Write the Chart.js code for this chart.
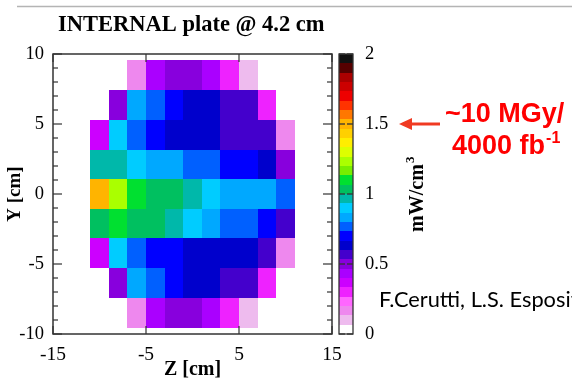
<!DOCTYPE html>
<html>
<head>
<meta charset="utf-8">
<script src="https://cdn.jsdelivr.net/npm/chart.js@4.4.1/dist/chart.umd.min.js"></script>
<style>
body { margin: 0; background: #fff; }
#wrap { width: 572px; height: 382px; }
</style>
</head>
<body>
<div id="wrap"><canvas id="myChart" width="572" height="382"></canvas></div>
<script>
// bin edges in cm
const zEdges = [-11, -9, -7, -5, -3, -1, 1, 3, 5, 7, 9, 11];
const yEdges = [9.6, 7.45, 5.3, 3.15, 1.05, -1.05, -3.15, -5.3, -7.45, -9.6];

// power density mW/cm3, one array per Y row (top to bottom), Z from -10 to 10
const rowY1 = [null, null, 0.17, 0.43, 0.50, 0.50, 0.43, 0.30, 0.10, null, null];
const rowY2 = [null, 0.50, 0.83, 0.77, 0.70, 0.63, 0.63, 0.57, 0.57, 0.30, null];
const rowY3 = [0.37, 0.90, 0.77, 0.70, 0.63, 0.63, 0.63, 0.57, 0.57, 0.57, 0.17];
const rowY4 = [0.97, 0.97, 0.90, 0.83, 0.83, 0.77, 0.77, 0.70, 0.70, 0.63, 0.50];
const rowY5 = [1.50, 1.23, 1.10, 1.03, 1.03, 0.97, 0.90, 0.83, 0.83, 0.83, 0.77];
const rowY6 = [1.03, 1.10, 1.03, 1.03, 0.97, 0.90, 0.83, 0.77, 0.77, 0.70, 0.57];
const rowY7 = [0.37, 0.90, 0.77, 0.70, 0.70, 0.63, 0.63, 0.63, 0.63, 0.57, 0.17];
const rowY8 = [null, 0.50, 0.83, 0.77, 0.70, 0.63, 0.63, 0.57, 0.57, 0.30, null];
const rowY9 = [null, null, 0.17, 0.43, 0.50, 0.50, 0.43, 0.30, 0.10, null, null];
const dose = [rowY1, rowY2, rowY3, rowY4, rowY5, rowY6, rowY7, rowY8, rowY9];

const xTicks = [-15, -5, 5, 15];
const yTicks = [-10, -5, 0, 5, 10];
const cTicks = [0, 0.5, 1, 1.5, 2];
const cMax = 2;

// ROOT-like palette, 30 bands from 0 to 2
const palette = ['#ffffff', '#eebbee', '#ee88ee', '#ff66ff', '#ee22ff', '#cc00ff', '#aa00ff', '#8800dd',
    '#4400cc', '#0000cc', '#0000ff', '#0060ff', '#00a8ff', '#00ccff', '#00b8aa', '#00c060',
    '#00e030', '#77ee00', '#aaff00', '#ddff00', '#ffee00', '#ffd000', '#ffb400', '#ff7700',
    '#ff3300', '#ee0000', '#cc0000', '#aa0000', '#550000', '#111111'];

function colorFor(v) {
    let k = Math.floor(v / cMax * palette.length);
    if (k > palette.length - 1) k = palette.length - 1;
    return palette[k];
}

const points = [];
dose.forEach((row, r) => row.forEach((v, c) => {
    if (v !== null) points.push({ x: (zEdges[c] + zEdges[c + 1]) / 2, y: (yEdges[r] + yEdges[r + 1]) / 2, v: v });
}));

function line(ctx, x0, y0, x1, y1) {
    ctx.beginPath();
    ctx.moveTo(x0, y0);
    ctx.lineTo(x1, y1);
    ctx.stroke();
}

const heatmap = {
    id: 'heatmap',
    beforeDatasetsDraw(chart) {
        const { ctx, scales: { x, y } } = chart;
        ctx.save();
        dose.forEach((row, r) => {
            row.forEach((v, c) => {
                if (v === null) return;
                const x0 = Math.round(x.getPixelForValue(zEdges[c]));
                const x1 = Math.round(x.getPixelForValue(zEdges[c + 1]));
                const y0 = Math.round(y.getPixelForValue(yEdges[r]));
                const y1 = Math.round(y.getPixelForValue(yEdges[r + 1]));
                ctx.fillStyle = colorFor(v);
                ctx.fillRect(x0, y0, x1 - x0, y1 - y0);
            });
        });
        ctx.restore();
    }
};

const decor = {
    id: 'decor',
    afterDraw(chart) {
        const { ctx, chartArea: { left, right, top, bottom }, scales: { x, y, c } } = chart;
        ctx.save();
        // slide separator
        ctx.strokeStyle = '#b4b4b4';
        ctx.lineWidth = 1.5;
        line(ctx, 17, 6.5, 572, 6.5);

        // frame and inward ticks
        ctx.strokeStyle = '#333';
        ctx.lineWidth = 1.5;
        ctx.strokeRect(left, top, right - left, bottom - top);
        ctx.lineWidth = 1.2;
        for (let v = -10; v <= 10; v++) {
            const py = y.getPixelForValue(v);
            const len = v % 5 === 0 ? 9 : 5;
            line(ctx, left, py, left + len, py);
            line(ctx, right, py, right - len, py);
        }
        xTicks.forEach(v => {
            const px = x.getPixelForValue(v);
            line(ctx, px, bottom, px, bottom - 8);
            line(ctx, px, top, px, top + 8);
        });

        // colour bar
        const bx0 = right + 7, bx1 = right + 21;
        palette.forEach((col, k) => {
            const y0 = Math.round(c.getPixelForValue((k + 1) * cMax / palette.length));
            const y1 = Math.round(c.getPixelForValue(k * cMax / palette.length));
            ctx.fillStyle = col;
            ctx.fillRect(bx0, y0, bx1 - bx0, y1 - y0);
        });
        ctx.strokeStyle = '#333';
        ctx.lineWidth = 1.3;
        ctx.strokeRect(bx0, c.top, bx1 - bx0, c.bottom - c.top);
        cTicks.forEach(v => {
            const py = c.getPixelForValue(v);
            line(ctx, bx0, py, bx0 + 6, py);
            line(ctx, bx1, py, bx1 - 6, py);
        });

        // colour bar title
        ctx.fillStyle = '#000';
        ctx.translate(right + 91, (top + bottom) / 2);
        ctx.rotate(-Math.PI / 2);
        ctx.font = "bold 20px 'Liberation Serif'";
        ctx.textAlign = 'left';
        ctx.textBaseline = 'alphabetic';
        const tw = ctx.measureText('mW/cm').width;
        ctx.fillText('mW/cm', -tw / 2 - 4, 0);
        ctx.font = "bold 13px 'Liberation Serif'";
        ctx.fillText('3', tw / 2 - 3, -9);
        ctx.restore();

        ctx.save();
        // title
        ctx.fillStyle = '#000';
        ctx.font = "bold 22.5px 'Liberation Serif'";
        ctx.textAlign = 'left';
        ctx.fillText('INTERNAL plate @ 4.2 cm', 58, 31);

        // annotation
        const ay = c.getPixelForValue(1.5);
        ctx.strokeStyle = '#f03a22';
        ctx.fillStyle = '#f03a22';
        ctx.lineWidth = 3;
        line(ctx, 440, ay, 408, ay);
        ctx.beginPath();
        ctx.moveTo(399, ay);
        ctx.lineTo(412, ay - 6);
        ctx.lineTo(412, ay + 6);
        ctx.closePath();
        ctx.fill();

        ctx.fillStyle = '#ff0000';
        ctx.font = "bold 27px 'Liberation Sans'";
        ctx.fillText('~10 MGy/', 445, 122);
        ctx.fillText('4000 fb', 452, 154);
        const w2 = ctx.measureText('4000 fb').width;
        ctx.font = "bold 16px 'Liberation Sans'";
        ctx.fillText('-1', 452 + w2 + 1, 143);

        // credit
        ctx.fillStyle = '#000';
        ctx.font = "21.8px 'Lato'";
        ctx.fillText('F.Cerutti, L.S. Esposito', 379, 307);
        ctx.restore();
    }
};

Chart.defaults.font.family = "'Liberation Serif', serif";
Chart.defaults.color = '#000';

const ctx = document.getElementById('myChart');
new Chart(ctx, {
    type: 'scatter',
    data: {
        datasets: [{
            label: 'power density',
            data: points,
            pointRadius: 0,
            pointHoverRadius: 0
        }]
    },
    options: {
        responsive: false,
        animation: false,
        devicePixelRatio: 1,
        layout: { padding: { left: 0, top: 54, right: 0, bottom: 0 } },
        plugins: { legend: { display: false }, tooltip: { enabled: false } },
        scales: {
            x: {
                type: 'linear', position: 'bottom', min: -15, max: 15,
                afterBuildTicks: s => { s.ticks = xTicks.map(v => ({ value: v })); },
                afterFit: s => { s.height = 48; },
                grid: { display: false, drawTicks: false },
                border: { display: false },
                ticks: { font: { size: 19.5 }, padding: 9, maxRotation: 0 },
                title: { display: true, text: 'Z [cm]', font: { size: 20, weight: 'bold' }, padding: 0 }
            },
            y: {
                type: 'linear', position: 'left', min: -10, max: 10,
                afterBuildTicks: s => { s.ticks = yTicks.map(v => ({ value: v })); },
                afterFit: s => { s.width = 53; },
                grid: { display: false, drawTicks: false },
                border: { display: false },
                ticks: { font: { size: 18.5 }, padding: 9 },
                title: { display: true, text: 'Y [cm]', font: { size: 19, weight: 'bold' }, padding: 4 }
            },
            c: {
                type: 'linear', position: 'right', min: 0, max: cMax,
                afterBuildTicks: s => { s.ticks = cTicks.map(v => ({ value: v })); },
                afterFit: s => { s.width = 240; },
                grid: { display: false, drawTicks: false },
                border: { display: false },
                ticks: { font: { size: 18.5 }, padding: 33, callback: v => String(v) }
            }
        }
    },
    plugins: [heatmap, decor]
});
</script>
</body>
</html>
